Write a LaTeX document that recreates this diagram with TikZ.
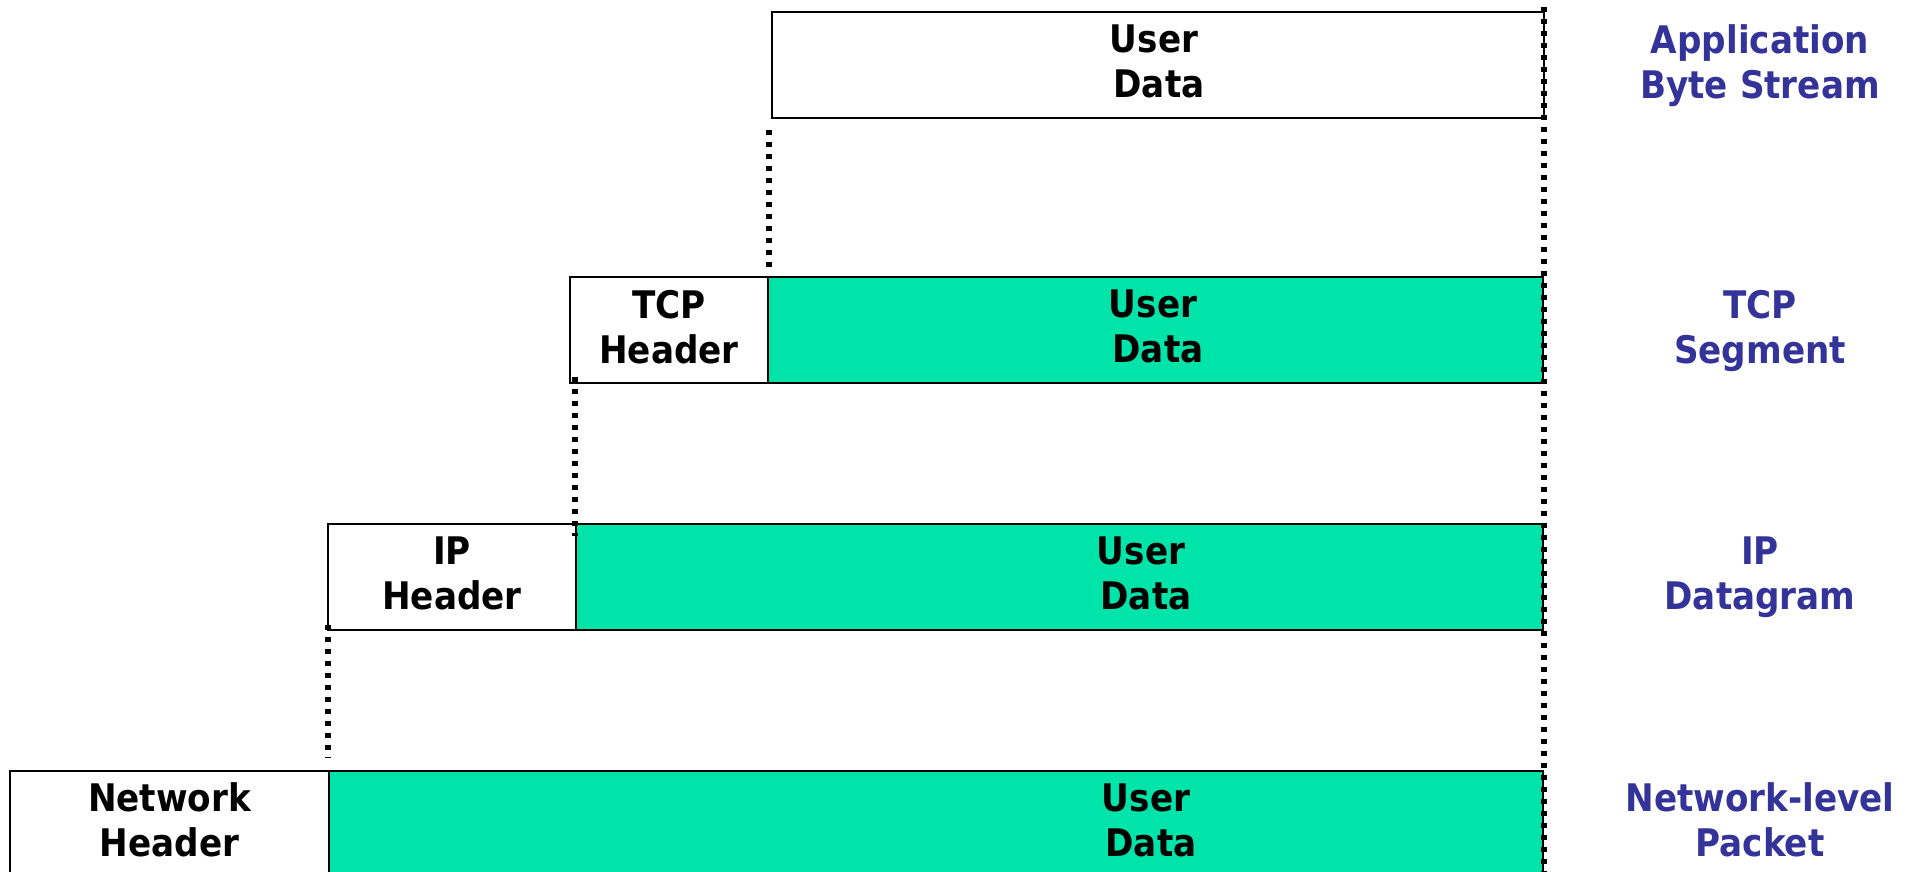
\documentclass[tikz,border=0pt]{standalone}
\usepackage{fontspec}
\setmainfont{DejaVu Sans}[FakeStretch=0.9]
\usetikzlibrary{calc}

\definecolor{payload}{RGB}{0,228,170}
\definecolor{layerblue}{RGB}{51,51,153}

\begin{document}
\begin{tikzpicture}[x=0.5pt,y=-0.5pt,
  cell/.style={draw=black, line width=1pt, inner sep=0pt, outer sep=0pt,
    anchor=north west, minimum height=53pt},
  hdrcell/.style={cell, fill=white},
  datacell/.style={cell, fill=payload},
  celltext/.style={font=\bfseries\fontsize{19}{22.5}\selectfont, align=center,
    inner sep=0pt, text depth=0pt, text=black},
  layertext/.style={celltext, text=layerblue},
  guide/.style={line width=2.6pt, line cap=butt, dash pattern=on 2.6pt off 3.4pt}]

  % page frame
  \clip (0,0) rectangle (1913,872);
  \fill[white] (0,0) rectangle (1913,872);

  % application byte stream
  \node[hdrcell, minimum width=386pt] (app) at (772,12) {};
  % TCP segment
  \node[hdrcell, minimum width=99pt] (tcphdr) at (570,277) {};
  \node[datacell, minimum width=387.5pt] (tcpdata) at (768,277) {};
  % IP datagram
  \node[hdrcell, minimum width=124pt] (iphdr) at (328,524) {};
  \node[datacell, minimum width=483.5pt] (ipdata) at (576,524) {};
  % network-level packet
  \node[hdrcell, minimum width=159.5pt] (nethdr) at (10,771) {};
  \node[datacell, minimum width=607pt] (netdata) at (329,771) {};

  % cell captions
  \node[celltext] (appt) at (1154,61.5) {User\\\hspace{5pt}Data};
  \node[celltext] (tcpht) at (669,326.5) {TCP\\Header};
  \node[celltext] (tcpdt) at (1153,326.5) {User\\\hspace{5pt}Data};
  \node[celltext] (ipht) at (452,573.5) {IP\\Header};
  \node[celltext] (ipdt) at (1141,573.5) {User\\\hspace{5pt}Data};
  \node[celltext] (netht) at (169.5,820) {Network\\Header};
  \node[celltext] (netdt) at (1146,820) {User\\\hspace{5pt}Data};

  % layer names
  \node[layertext] (lapp) at (1760,61.5) {Application\\Byte Stream};
  \node[layertext] (ltcp) at (1760,326.5) {TCP\\Segment};
  \node[layertext] (lip) at (1760,573.5) {IP\\Datagram};
  \node[layertext] (lnet) at (1760,820) {Network-level\\Packet};

  % dotted alignment guides
  \draw[guide] ([xshift=-1.5pt,yshift=-6pt]app.south west) -- ([xshift=0.5pt,yshift=5pt]tcpdata.north west);
  \draw[guide] ([xshift=2.5pt,yshift=3pt]tcphdr.south west) -- ([xshift=-0.5pt,yshift=-6pt]ipdata.north west);
  \draw[guide] ([yshift=2.5pt]iphdr.south west) -- ([xshift=-0.5pt,yshift=6.5pt]netdata.north west);
  \draw[guide] ([xshift=0pt,yshift=2.5pt]app.north east) -- ([xshift=0.5pt]netdata.south east);
\end{tikzpicture}
\end{document}
